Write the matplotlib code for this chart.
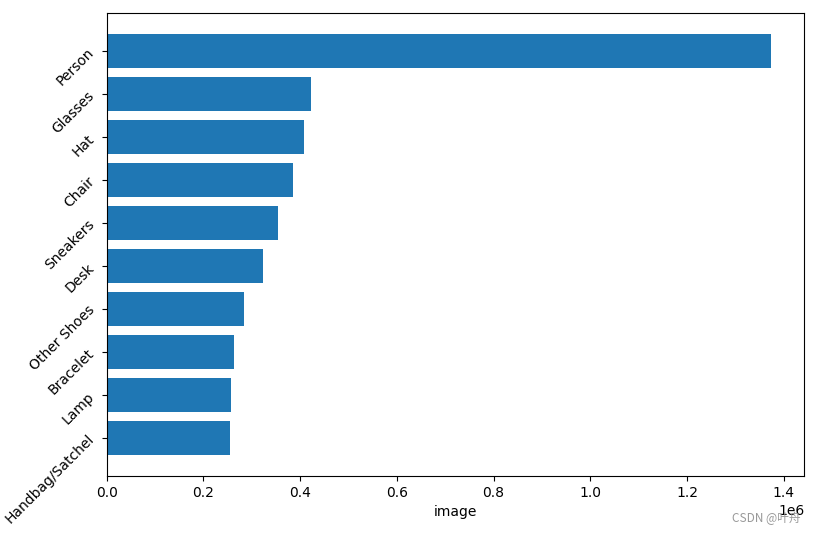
import matplotlib

matplotlib.use("Agg")
import matplotlib.pyplot as plt

categories = ["Person", "Glasses", "Hat", "Chair", "Sneakers", "Desk",
              "Other Shoes", "Bracelet", "Lamp", "Handbag/Satchel"]
counts = [1374000, 423000, 408000, 385000, 354000, 323000,
          284000, 263000, 256000, 254000]

fig, ax = plt.subplots(figsize=(8.15, 5.33), dpi=100)
fig.subplots_adjust(left=0.131, right=0.987, top=0.976, bottom=0.107)

# barh draws bottom-up, so reverse to keep Person on top
ax.barh(categories[::-1], counts[::-1], color="#1f77b4")
ax.set_xlabel("image")
plt.setp(ax.get_yticklabels(), rotation=45, ha="right", rotation_mode="default")

fig.text(0.898, 0.028, "CSDN @叶舟", fontsize=8.5, color="#999999",
         family=["Noto Sans CJK SC", "DejaVu Sans"], ha="left", va="center")

fig.savefig("out.png", dpi=100)
